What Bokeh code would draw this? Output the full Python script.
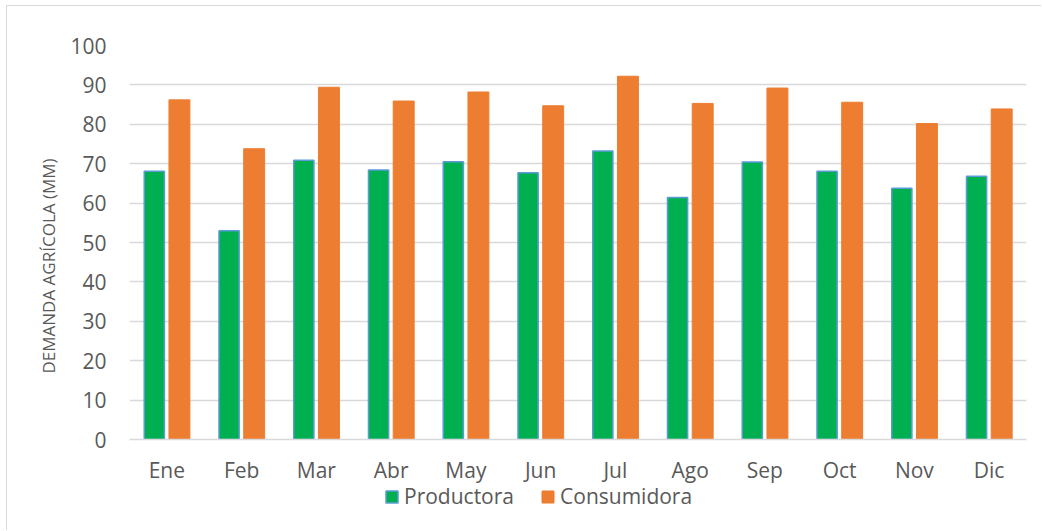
from bokeh.plotting import figure
from bokeh.layouts import column
from bokeh.models import (ColumnDataSource, FactorRange, Range1d, Legend, LegendItem,
                          SingleIntervalTicker, Title)
from bokeh.transform import dodge
from bokeh.embed import file_html
from bokeh.resources import INLINE

months = ["Ene", "Feb", "Mar", "Abr", "May", "Jun", "Jul", "Ago", "Sep", "Oct", "Nov", "Dic"]
productora = [68.1, 53.0, 70.9, 68.4, 70.5, 67.7, 73.2, 61.4, 70.4, 68.1, 63.8, 66.8]
consumidora = [86.2, 73.8, 89.4, 85.9, 88.2, 84.7, 92.2, 85.3, 89.2, 85.6, 80.2, 83.9]
series_names = ["Productora", "Consumidora"]

src = ColumnDataSource(dict(m=months, p=productora, c=consumidora))

FONT = "Open Sans"
GRAY = "#595959"
GREEN, BLUE, ORANGE = "#00B050", "#5B9BD5", "#ED7D31"

p = figure(width=1034, height=480, x_range=FactorRange(*months, range_padding=0),
           y_range=Range1d(0, 100), output_backend="svg", toolbar_location=None,
           min_border_left=122, min_border_right=15, min_border_top=39, min_border_bottom=47)
p.outline_line_color = None

p.vbar(x=dodge("m", -0.168, range=p.x_range), top="p", width=0.27, source=src,
       fill_color=GREEN, line_color=BLUE, line_width=1.5)
p.vbar(x=dodge("m", 0.168, range=p.x_range), top="c", width=0.28, source=src,
       fill_color=ORANGE, line_color=ORANGE, line_width=1)

p.xgrid.grid_line_color = None
p.ygrid.grid_line_color = "#D9D9D9"
p.ygrid.grid_line_width = 1.5
p.yaxis.ticker = SingleIntervalTicker(interval=10)

p.yaxis.axis_line_color = None
p.yaxis.major_tick_line_color = None
p.yaxis.minor_tick_line_color = None
p.yaxis.major_label_text_font = FONT
p.yaxis.major_label_text_font_size = "21px"
p.yaxis.major_label_text_color = GRAY
p.yaxis.major_label_standoff = 17

p.add_layout(Title(text="DEMANDA AGRÍCOLA (MM)", align="left", offset=66, standoff=15,
                   text_font=FONT, text_font_size="17px", text_font_style="normal",
                   text_color=GRAY), "left")

p.xaxis.axis_line_color = "#D9D9D9"
p.xaxis.axis_line_width = 1.5
p.xaxis.major_tick_line_color = None
p.xaxis.minor_tick_line_color = None
p.xaxis.major_label_text_font = FONT
p.xaxis.major_label_text_font_size = "21px"
p.xaxis.major_label_text_color = GRAY
p.xaxis.major_label_standoff = 10

# legend strip (its frame is aligned with the chart's frame by the column layout)
leg = figure(width=1034, height=50, x_range=Range1d(0, 1), y_range=Range1d(0, 1),
             output_backend="svg", toolbar_location=None,
             min_border_left=0, min_border_right=0, min_border_top=0, min_border_bottom=0)
leg.margin = (-6, 0, 0, 0)
leg.background_fill_color = None
leg.border_fill_color = None
leg.axis.visible = False
leg.grid.visible = False
leg.outline_line_color = None
hidden = ColumnDataSource(dict(x=[-5], top=[-5]))
g1 = leg.vbar(x="x", top="top", width=0.1, source=hidden,
              fill_color=GREEN, line_color=BLUE, line_width=1.5)
g2 = leg.vbar(x="x", top="top", width=0.1, source=hidden,
              fill_color=ORANGE, line_color=ORANGE, line_width=1)
legend = Legend(items=[LegendItem(label=series_names[0], renderers=[g1]),
                       LegendItem(label=series_names[1], renderers=[g2])],
                orientation="horizontal", location=(255, 20),
                label_text_font=FONT, label_text_font_size="21px", label_text_color=GRAY,
                glyph_width=15, glyph_height=15, label_height=15, spacing=26, padding=0, margin=0,
                label_standoff=5, border_line_color=None, background_fill_alpha=0)
leg.add_layout(legend, "center")

layout = column(p, leg, spacing=0)
layout.styles = {"border-left": "1px solid #D9D9D9", "border-top": "1px solid #D9D9D9",
                 "margin-left": "6px", "margin-top": "5px"}

open("out.html", "w").write(file_html(layout, INLINE))
